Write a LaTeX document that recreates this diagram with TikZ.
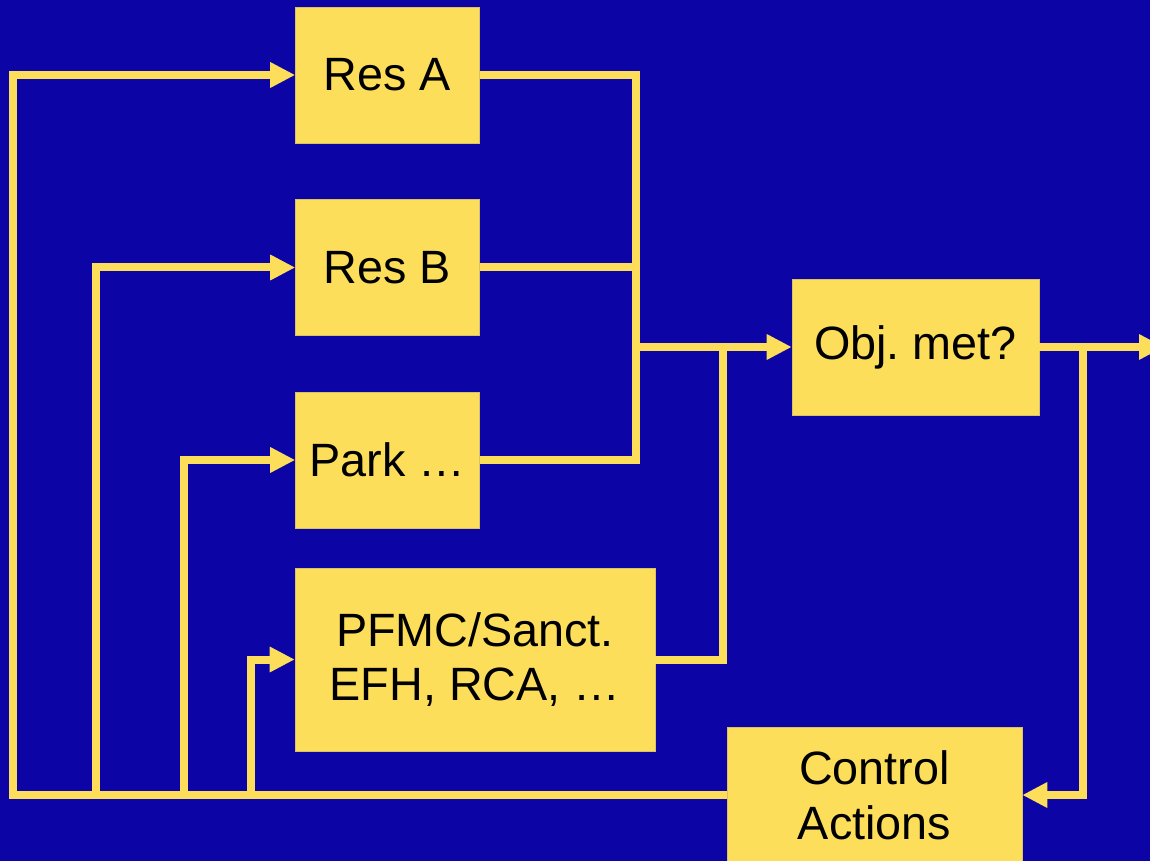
\documentclass[tikz,border=0pt]{standalone}
\usepackage{fontspec}
\setmainfont{Liberation Sans}
\usetikzlibrary{arrows.meta,calc}
\definecolor{slideblue}{RGB}{12,4,164}
\definecolor{boxyellow}{RGB}{252,222,90}
\newcommand{\BusX}{636}
\newcommand{\JoinX}{723}
\newcommand{\TapX}{1083}
\newcommand{\FeedY}{795}
\tikzset{
  blockbox/.style={
    fill=boxyellow,
    draw=boxyellow!70!gray,
    line width=0.3pt,
    inner sep=0pt,
    align=center,
    font=\fontsize{26.6}{31.2}\selectfont\frenchspacing
  },
  wire/.style={
    draw=boxyellow,
    line width=0.16cm,
    line join=miter
  },
  flow/.style={
    wire,
    -{Triangle[length=0.5cm,width=0.48cm]}
  }
}

\begin{document}
\begin{tikzpicture}[x=0.02cm,y=-0.02cm]
  \fill[slideblue] (0,0) rectangle (1150,861);
  \useasboundingbox (0,0) rectangle (1150,861);
  \clip (0,0) rectangle (1150,861);

  \node[blockbox,minimum width=184*0.02cm,minimum height=136*0.02cm] (resA) at (387.5,75) {Res A};
  \node[blockbox,minimum width=184*0.02cm,minimum height=136*0.02cm] (resB) at (387.5,267.5) {Res B};
  \node[blockbox,minimum width=184*0.02cm,minimum height=136*0.02cm] (park) at (387.5,460) {Park …};
  \node[blockbox,minimum width=360*0.02cm,minimum height=183*0.02cm] (pfmc) at (475,659.5) {PFMC/Sanct.\\EFH, RCA, …};
  \node[blockbox,minimum width=247*0.02cm,minimum height=136*0.02cm] (obj) at (915.5,347) {Obj. met?};
  \node[blockbox,minimum width=295*0.02cm,minimum height=136*0.02cm] (ctrl) at (874.5,795) {Control\\Actions};

  \coordinate (busTop) at (\BusX,75);
  \coordinate (busBot) at (\BusX,460);
  \coordinate (joinP) at (\JoinX,347);
  \coordinate (tapR) at (\TapX,347);
  \coordinate (exitR) at (1164,347);
  \coordinate (fbA) at (13,\FeedY);
  \coordinate (fbB) at (95.5,\FeedY);
  \coordinate (fbC) at (184,\FeedY);
  \coordinate (fbD) at (251,\FeedY);

  % results merge into the objective check
  \draw[wire] (resA.east) -- (busTop) -- (busBot) -- (park.east);
  \draw[wire] (resB.east) -- (resB.east -| busTop);
  \draw[wire] (pfmc.east) -| (joinP);
  \draw[flow] (busTop |- obj.west) -- (obj.west);

  % out and back
  \draw[flow] (obj.east) -- (exitR);
  \draw[flow] (tapR) |- (ctrl.east);

  % feedback to every block
  \draw[flow] (ctrl.west) -- (fbA) |- (resA.west);
  \draw[flow] (fbB) |- (resB.west);
  \draw[flow] (fbC) |- (park.west);
  \draw[flow] (fbD) |- (pfmc.west);
\end{tikzpicture}
\end{document}
